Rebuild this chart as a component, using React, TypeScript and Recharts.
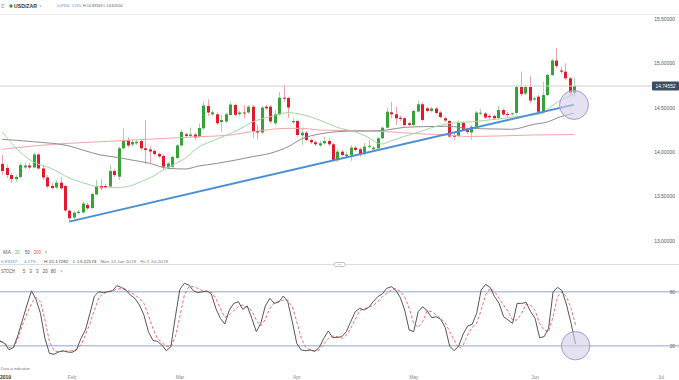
import React from "react";
import {
  ComposedChart,
  Bar,
  Line,
  XAxis,
  YAxis,
  ReferenceLine,
  ReferenceDot,
} from "recharts";

// daily candles (incl. Sunday bars), Mon 14 Jan 2019 onwards
const opens = [
  13.867, 13.822, 13.743, 13.698, 13.721, 13.828, 13.85, 13.828, 13.974, 13.817,
  13.715, 13.619, 13.603, 13.657, 13.619, 13.341, 13.265, 13.315, 13.321, 13.406,
  13.372, 13.524, 13.619, 13.619, 13.614, 13.788, 13.724, 14.044, 14.132, 14.087,
  14.1, 14.126, 14.044, 14.031, 14.014, 13.98, 13.957, 13.828, 13.837, 13.935,
  14.076, 14.202, 14.183, 14.199, 14.175, 14.269, 14.52, 14.427, 14.427, 14.34,
  14.346, 14.419, 14.532, 14.428, 14.447, 14.447, 14.512, 14.239, 14.222, 14.512,
  14.512, 14.326, 14.425, 14.614, 14.61, 14.337, 14.351, 14.19, 14.22, 14.137,
  14.112, 14.076, 14.1, 14.126, 14.089, 13.912, 14.006, 13.957, 13.969, 14.051,
  14.033, 13.98, 14.062, 14.033, 14.044, 14.157, 14.276, 14.449, 14.427, 14.388,
  14.382, 14.326, 14.306, 14.458, 14.54, 14.494, 14.464, 14.492, 14.447, 14.382,
  14.351, 14.186, 14.183, 14.329, 14.25, 14.222, 14.287, 14.436, 14.436, 14.408,
  14.408, 14.385, 14.475, 14.43, 14.427, 14.442, 14.734, 14.661, 14.734, 14.594,
  14.625, 14.456, 14.644, 14.869, 15.033, 14.92, 14.907, 14.832, 14.6694,
];
const highs = [
  13.969, 13.856, 13.766, 13.743, 13.878, 13.878, 13.878, 13.997, 13.991, 13.856,
  13.743, 13.653, 13.687, 13.713, 13.631, 13.355, 13.338, 13.355, 13.445, 13.428,
  13.541, 13.687, 13.695, 13.642, 13.856, 13.811, 14.062, 14.269, 14.168, 14.143,
  14.137, 14.145, 14.363, 14.07, 14.031, 13.997, 13.974, 13.89, 13.963, 14.092,
  14.25, 14.222, 14.278, 14.216, 14.326, 14.569, 14.596, 14.47, 14.447, 14.419,
  14.447, 14.569, 14.549, 14.464, 14.532, 14.532, 14.532, 14.306, 14.52, 14.532,
  14.532, 14.475, 14.681, 14.757, 14.625, 14.385, 14.368, 14.273, 14.239, 14.154,
  14.132, 14.126, 14.171, 14.16, 14.104, 14.036, 14.025, 14.008, 14.081, 14.07,
  14.053, 14.104, 14.137, 14.07, 14.171, 14.289, 14.501, 14.569, 14.512, 14.413,
  14.396, 14.34, 14.481, 14.577, 14.56, 14.515, 14.509, 14.509, 14.464, 14.396,
  14.363, 14.216, 14.357, 14.346, 14.267, 14.306, 14.464, 14.487, 14.453, 14.43,
  14.425, 14.52, 14.492, 14.453, 14.447, 14.757, 14.907, 14.757, 14.855, 14.627,
  14.644, 14.794, 14.886, 15.05, 15.1728, 14.96, 15.001, 14.847, 14.8357,
];
const lows = [
  13.743, 13.71, 13.653, 13.665, 13.71, 13.811, 13.811, 13.817, 13.805, 13.687,
  13.591, 13.58, 13.586, 13.574, 13.327, 13.2257, 13.248, 13.299, 13.31, 13.349,
  13.36, 13.513, 13.574, 13.586, 13.603, 13.721, 13.687, 14.031, 14.053, 14.064,
  14.081, 14.017, 13.867, 13.878, 13.963, 13.935, 13.8, 13.805, 13.817, 13.918,
  14.059, 14.166, 14.166, 14.137, 14.16, 14.256, 14.408, 14.408, 14.306, 14.231,
  14.329, 14.408, 14.402, 14.408, 14.382, 14.43, 14.157, 14.145, 14.205, 14.475,
  14.323, 14.306, 14.413, 14.569, 14.382, 14.318, 14.171, 14.081, 14.121, 14.092,
  14.07, 14.059, 14.087, 14.07, 13.893, 13.89, 13.952, 13.931, 13.901, 14.008,
  13.949, 13.963, 14.044, 14.019, 14.031, 14.143, 14.267, 14.382, 14.306, 14.351,
  14.289, 14.289, 14.292, 14.447, 14.346, 14.447, 14.447, 14.425, 14.38, 14.337,
  14.16, 14.137, 14.166, 14.239, 14.205, 14.137, 14.269, 14.419, 14.374, 14.374,
  14.363, 14.368, 14.408, 14.396, 14.413, 14.425, 14.627, 14.639, 14.554, 14.577,
  14.442, 14.438, 14.633, 14.858, 14.948, 14.881, 14.813, 14.644, 14.6255,
];
const closes = [
  13.788, 13.743, 13.698, 13.721, 13.856, 13.85, 13.828, 13.974, 13.817, 13.715,
  13.614, 13.597, 13.657, 13.594, 13.344, 13.256, 13.319, 13.33, 13.422, 13.368,
  13.529, 13.619, 13.594, 13.603, 13.788, 13.743, 14.044, 14.13, 14.076, 14.115,
  14.118, 14.044, 14.025, 14.008, 13.98, 13.952, 13.837, 13.873, 13.946, 14.076,
  14.228, 14.183, 14.199, 14.166, 14.273, 14.526, 14.447, 14.449, 14.326, 14.363,
  14.427, 14.537, 14.421, 14.447, 14.438, 14.512, 14.239, 14.222, 14.503, 14.494,
  14.346, 14.427, 14.614, 14.603, 14.503, 14.351, 14.194, 14.22, 14.137, 14.112,
  14.089, 14.1, 14.126, 14.089, 13.912, 14.006, 13.969, 13.974, 14.051, 14.025,
  13.98, 14.062, 14.073, 14.051, 14.157, 14.276, 14.456, 14.427, 14.382, 14.374,
  14.306, 14.306, 14.464, 14.54, 14.363, 14.464, 14.492, 14.442, 14.396, 14.357,
  14.177, 14.175, 14.34, 14.25, 14.228, 14.287, 14.447, 14.445, 14.391, 14.393,
  14.382, 14.475, 14.425, 14.419, 14.438, 14.734, 14.656, 14.734, 14.582, 14.607,
  14.456, 14.644, 14.869, 15.033, 14.971, 14.907, 14.832, 14.6694, 14.74552,
];

// moving averages [bar index, value]
const ma20Points: [number, number][] = [
  [0, 14.228], [4, 14.002], [7, 13.89], [11, 13.817], [15, 13.71], [19, 13.642],
  [22, 13.605], [25, 13.6], [28, 13.612], [31, 13.668], [34, 13.735], [36, 13.8],
  [38, 13.85], [41, 13.935], [44, 14.059], [47, 14.126], [50, 14.188], [53, 14.256],
  [56, 14.34], [60, 14.4], [64, 14.445], [67, 14.425], [71, 14.363], [75, 14.28],
  [79, 14.228], [82, 14.166], [84, 14.104], [85, 14.092], [87, 14.126], [90, 14.177],
  [94, 14.239], [97, 14.289], [100, 14.323], [106, 14.346], [111, 14.374],
  [115, 14.4], [119, 14.419], [121, 14.438], [123, 14.52], [126, 14.61], [128, 14.655],
];
const ma50Points: [number, number][] = [
  [0, 14.145], [7, 14.118], [15, 14.07], [18, 14.025], [22, 13.969], [26, 13.94],
  [29, 13.912], [33, 13.875], [37, 13.819], [41, 13.811], [44, 13.845], [48, 13.873],
  [52, 13.909], [56, 13.949], [60, 13.988], [64, 14.062], [67, 14.149], [71, 14.205],
  [75, 14.231], [79, 14.239], [82, 14.239], [86, 14.25], [90, 14.28], [94, 14.287],
  [100, 14.292], [104, 14.269], [111, 14.261], [114, 14.258], [119, 14.314],
  [122, 14.34], [125, 14.4], [128, 14.438],
];
const ma200Points: [number, number][] = [
  [0, 14.033], [7, 14.07], [15, 14.1], [22, 14.118], [29, 14.137], [37, 14.157],
  [44, 14.175], [50, 14.188], [56, 14.231], [64, 14.269], [67, 14.269], [71, 14.25],
  [79, 14.242], [86, 14.231], [94, 14.205], [100, 14.194], [104, 14.177],
  [111, 14.183], [119, 14.194], [128, 14.199],
];

// stochastic 5,3,3
const stochK = [
  25.2, 22.6, 15.5, 18, 31.9, 48.5, 65.2, 81, 71.5, 55.9,
  28.1, 11.5, 10.4, 13, 14.4, 13, 12.6, 15.2, 28.1, 37.4,
  55.9, 75.2, 80, 78.9, 80, 81.1, 86.7, 84.8, 81.9, 76.3,
  72.6, 65.2, 54.1, 35.6, 25.9, 24.8, 20.7, 14.4, 18.9, 52.2,
  82.6, 89.3, 87.4, 81.1, 78.9, 80, 80.7, 77.4, 61.5, 50.4,
  44.1, 59.6, 67, 68.9, 60.4, 64.1, 50.4, 35.6, 44.8, 64.1,
  72.6, 67, 68.5, 75.2, 68.9, 46.7, 22.6, 15.2, 14.4, 15.2,
  13.7, 18.1, 28.1, 36.3, 28.9, 29.3, 30, 35.6, 46.7, 57.8,
  61.5, 59.6, 62.6, 68.9, 74.4, 77.4, 83.7, 85.6, 81.9, 73.7,
  59.6, 37.4, 35.6, 57.8, 63.3, 58.9, 51.1, 52.2, 49.3, 40.4,
  19.6, 14.4, 19.6, 33, 41.9, 43.7, 55.9, 81.9, 88.1, 84.8,
  74.4, 67, 52.2, 48.5, 44.8, 67, 67, 68.1, 57.8, 50.4,
  28.9, 30, 39.3, 80, 84.8, 81.1, 65.2, 44.8, 21.9,
];
const stochD = [
  25.2, 23.3, 18.1, 17.8, 28.1, 43, 55.9, 67, 73.7, 68.9,
  48.5, 24.4, 14.4, 13.3, 13.7, 14.1, 14.4, 15.9, 20.7, 31.9,
  44.8, 59.6, 73.7, 78.1, 79.6, 80.7, 83, 83.3, 82.6, 80,
  76.3, 72.6, 67, 54.1, 39.3, 28.1, 23.3, 19.6, 18.9, 30,
  52.2, 76.3, 85.6, 85.6, 83.7, 81.1, 80.4, 79.6, 72.6, 61.5,
  51.5, 54.1, 58.9, 63.3, 65.2, 62.6, 58.9, 48.5, 41.9, 49.3,
  61.5, 67.8, 68.9, 70.7, 70.7, 63.3, 46.7, 28.1, 18.1, 15.2,
  14.4, 15.2, 21.9, 28.1, 30.7, 30, 28.1, 31.5, 39.3, 49.3,
  58.9, 61.1, 62.6, 64.8, 68.9, 74.4, 78.1, 81.9, 83.3, 80.7,
  74.4, 61.5, 44.8, 40.4, 46.7, 58.9, 57.8, 54.1, 50.4, 45.6,
  35.6, 26.3, 17, 20.7, 31.9, 40.4, 44.8, 59.6, 76.3, 83.7,
  80, 72.6, 65.2, 57.8, 48.5, 48.5, 55.9, 66.3, 65.2, 58.9,
  44.8, 37.4, 35.6, 52.2, 74.4, 80, 74.4, 61.5, 43,
];

const monthTicks = [0, 16, 40, 66, 92, 119, 147];
const monthLabels = ["2019", "Feb", "Mar", "Apr", "May", "Jun", "Jul"];
const priceTicks = [13, 13.5, 14, 14.5, 15, 15.5];
const stochLevels = [20, 80];
const trendLine = [
  { x: 15, y: 13.218 },
  { x: 128, y: 14.536 },
];
const lastPrice = 14.74552;

const SLOTS = 152;
const W = 679;
const MAIN_H = 264;
const STOCH_H = 116;
const FONT = "'Liberation Sans', Arial, sans-serif";

const rows: any[] = Array.from({ length: SLOTS }, (_, i) => {
  const row: any = { i };
  if (i < opens.length) {
    row.o = opens[i];
    row.h = highs[i];
    row.l = lows[i];
    row.c = closes[i];
    row.range = [lows[i], highs[i]];
    row.k = stochK[i];
    row.d = stochD[i];
  }
  return row;
});
ma20Points.forEach(([i, v]) => (rows[i].ma20 = v));
ma50Points.forEach(([i, v]) => (rows[i].ma50 = v));
ma200Points.forEach(([i, v]) => (rows[i].ma200 = v));

function Candle(props: any) {
  const { x, y, width, height, payload } = props;
  if (!payload || payload.o == null) return <g />;
  const top = Math.min(y, y + height);
  const span = Math.abs(height);
  const { o, h, l, c } = payload;
  const k = h - l > 0 ? span / (h - l) : 0;
  const yO = top + (h - o) * k;
  const yC = top + (h - c) * k;
  const up = c >= o;
  const cx = Math.round(x + width / 2) + 0.5;
  return (
    <g>
      <line
        x1={cx}
        x2={cx}
        y1={top}
        y2={top + span}
        stroke={up ? "#a5d8a5" : "#f2a2a8"}
        strokeWidth={1}
      />
      <rect
        x={cx - 1.5}
        y={Math.min(yO, yC)}
        width={3}
        height={Math.max(1, Math.abs(yC - yO))}
        fill={up ? "#35a336" : "#e3192c"}
      />
    </g>
  );
}

function PriceTick(props: any) {
  return (
    <text x={675} y={props.y + 1.8} textAnchor="end" fontSize={5} fill="#555" fontFamily={FONT}>
      {Number(props.payload.value).toFixed(5)}
    </text>
  );
}

function StochTick(props: any) {
  return (
    <text x={675} y={props.y + 1.8} textAnchor="end" fontSize={4.8} fill="#666" fontFamily={FONT}>
      {props.payload.value}
    </text>
  );
}

function MonthTick(props: any) {
  const idx = monthTicks.indexOf(props.payload.value);
  const first = idx === 0;
  return (
    <text
      x={first ? 0 : props.x}
      y={114.7}
      textAnchor={first ? "start" : "middle"}
      fontSize={first ? 5 : 4.8}
      fontWeight={first ? 700 : 400}
      fill={first ? "#333" : "#888"}
      fontFamily={FONT}
    >
      {monthLabels[idx]}
    </text>
  );
}

function PriceTag(props: any) {
  const vb = props.viewBox || {};
  const cy = vb.y ?? 0;
  return (
    <g>
      <rect x={652} y={cy - 4.5} width={27} height={9} rx={1} fill="#3c4d61" />
      <text x={665.5} y={cy + 1.8} textAnchor="middle" fontSize={4.8} fill="#fff" fontFamily={FONT}>
        {lastPrice.toFixed(5)}
      </text>
    </g>
  );
}

function T(p: {
  x: number;
  y: number;
  s?: number;
  c?: string;
  w?: number;
  b?: boolean;
  children: React.ReactNode;
}) {
  const s = p.s ?? 4.5;
  return (
    <text
      x={p.x}
      y={p.y + s * 0.35}
      fontSize={s}
      fill={p.c ?? "#555"}
      fontWeight={p.b ? 700 : 400}
      fontFamily={FONT}
      textLength={p.w}
      lengthAdjust={p.w ? "spacingAndGlyphs" : undefined}
    >
      {p.children}
    </text>
  );
}

const maLine = {
  type: "monotone" as const,
  strokeWidth: 1,
  dot: false,
  activeDot: false,
  connectNulls: true,
  legendType: "none" as const,
  isAnimationActive: false,
};

export default function App() {
  const blue = "#3f8ad2";
  return (
    <div style={{ position: "relative", width: W, height: 380, background: "#fff", overflow: "hidden" }}>
      <style>{"body{margin:0}"}</style>
      <div style={{ position: "absolute", left: 0, top: 0 }}>
        <ComposedChart width={W} height={MAIN_H} data={rows} margin={{ top: 0, right: 0, bottom: 0, left: 0 }}>
          <XAxis dataKey="i" hide />
          <YAxis
            type="number"
            domain={[12.741, 15.714]}
            allowDataOverflow
            orientation="right"
            mirror
            ticks={priceTicks}
            axisLine={false}
            tickLine={false}
            tick={<PriceTick />}
          />
          <ReferenceLine y={lastPrice} stroke="#cfcfcf" strokeWidth={1} label={<PriceTag />} />
          <ReferenceDot
            x={128}
            y={14.532}
            r={14.5}
            fill="#d3cde6"
            fillOpacity={0.6}
            stroke="#a79ccb"
            strokeWidth={1}
          />
          <Line dataKey="ma200" stroke="#f3a5a5" {...maLine} />
          <Line dataKey="ma50" stroke="#8d8d8d" {...maLine} />
          <Line dataKey="ma20" stroke="#a3d6a3" {...maLine} />
          <Bar dataKey="range" shape={<Candle />} isAnimationActive={false} />
          <ReferenceLine segment={trendLine} stroke="#4a8fd6" strokeWidth={2} />
        </ComposedChart>
      </div>
      <div style={{ position: "absolute", left: 0, top: MAIN_H }}>
        <ComposedChart width={W} height={STOCH_H} data={rows} margin={{ top: 2, right: 0, bottom: 0, left: 0 }}>
          <XAxis
            dataKey="i"
            ticks={monthTicks}
            interval={0}
            axisLine={false}
            tickLine={false}
            height={10}
            tick={<MonthTick />}
          />
          <YAxis
            type="number"
            domain={[-7, 108.56]}
            allowDataOverflow
            orientation="right"
            mirror
            ticks={stochLevels}
            axisLine={false}
            tickLine={false}
            tick={<StochTick />}
          />
          {stochLevels.map((v) => (
            <ReferenceLine key={v} y={v} stroke="#b3c5dc" strokeWidth={1.5} />
          ))}
          <ReferenceDot x={128} y={20} r={14.2} fill="#d3cde6" fillOpacity={0.6} stroke="#a79ccb" strokeWidth={1} />
          <Line dataKey="d" type="linear" stroke="#ef6d6d" strokeWidth={1} strokeDasharray="3 2" dot={false} activeDot={false} isAnimationActive={false} />
          <Line dataKey="k" type="linear" stroke="#555" strokeWidth={1} dot={false} activeDot={false} isAnimationActive={false} />
        </ComposedChart>
      </div>
      <svg
        width={W}
        height={380}
        style={{ position: "absolute", left: 0, top: 0, pointerEvents: "none" }}
      >
        <line x1={0} x2={W} y1={14.5} y2={14.5} stroke="#ececec" />
        <T x={1} y={6} s={6} c="#888">≡</T>
        <circle cx={11} cy={6} r={1.7} fill="#2ea043" />
        <T x={14} y={6} s={4.8} c="#333" b w={23}>USD/ZAR</T>
        <T x={39} y={6} s={4} c="#999">∨</T>
        <T x={57} y={6} s={4} c={blue} w={12.5}>0.07616</T>
        <T x={72} y={6} s={4} c={blue} w={9}>0.52%</T>
        <T x={83} y={6} s={4} c="#555" w={19.5}>H 14.83569</T>
        <T x={103.5} y={6} s={4} c="#555" w={19}>L 14.62554</T>

        <T x={3} y={252.7} s={4.6} c="#666" w={8}>MA</T>
        <T x={15} y={252.7} s={4.6} c="#5cb85c" w={4.5}>20</T>
        <T x={25} y={252.7} s={4.6} c="#555" w={5}>50</T>
        <T x={33.5} y={252.7} s={4.6} c="#e55353" w={7.5}>200</T>
        <T x={44.5} y={252.7} s={4.6} c="#999">×</T>

        <T x={1} y={261.3} s={4.3} c={blue} w={16}>0.87037</T>
        <T x={24} y={261.3} s={4.3} c={blue} w={12}>4.27%</T>
        <T x={44} y={261.3} s={4.3} c="#444" w={24.5}>H 15.17282</T>
        <T x={73} y={261.3} s={4.3} c="#444" w={23.5}>L 13.22574</T>
        <T x={100.5} y={261.3} s={4.3} c="#777" w={67.5}>Mon 14 Jan 2019 - Fri 5 Jul 2019</T>

        <line x1={0} x2={W} y1={264.5} y2={264.5} stroke="#dcdcdc" />
        <rect x={334} y={262.5} width={11} height={4} rx={2} fill="#fff" stroke="#aaa" strokeWidth={0.7} />
        <line x1={337.5} x2={341.5} y1={264.5} y2={264.5} stroke="#aaa" strokeWidth={0.5} />

        <T x={1} y={271.7} s={4.5} c="#555" w={14}>STOCH</T>
        <T x={22.7} y={271.7} s={4.5} c="#555">5</T>
        <T x={29.3} y={271.7} s={4.5} c="#555">3</T>
        <T x={36} y={271.7} s={4.5} c="#555">3</T>
        <T x={42.7} y={271.7} s={4.5} c="#555">20</T>
        <T x={50.7} y={271.7} s={4.5} c="#555">80</T>
        <T x={60} y={271.7} s={4.5} c="#999">×</T>

        <T x={1} y={369} s={3.8} c="#777" w={29}>Data is indicative</T>
      </svg>
    </div>
  );
}
